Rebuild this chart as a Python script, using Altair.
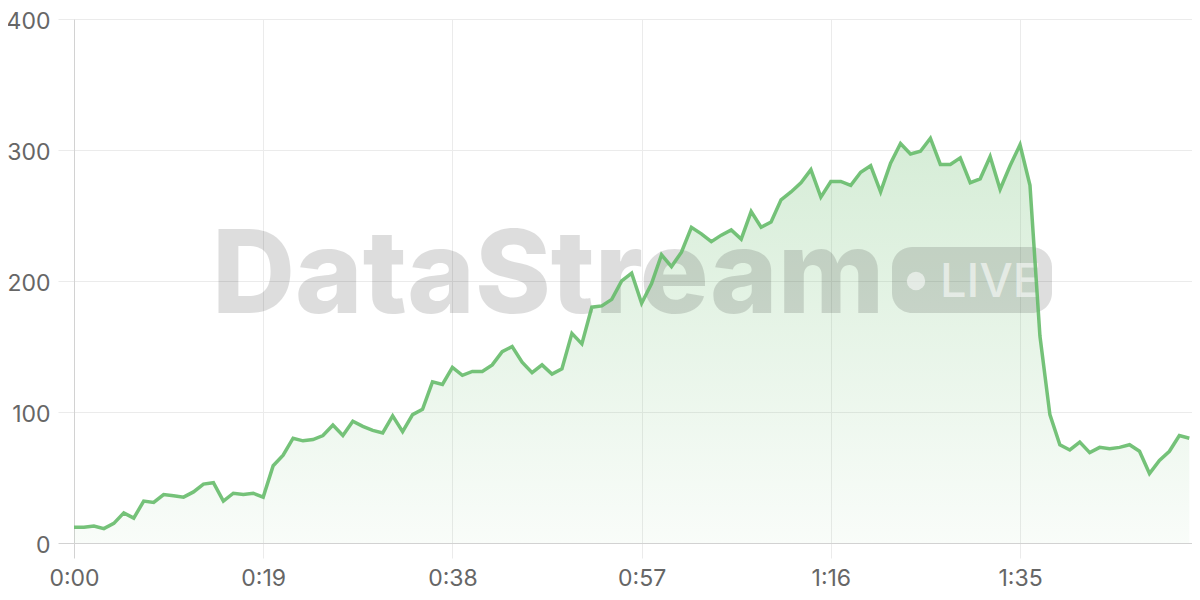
import altair as alt
import pandas as pd

seconds = list(range(0, 113))
values = [
    12, 12, 13, 11, 15, 23, 19, 32, 31, 37,
    36, 35, 39, 45, 46, 32, 38, 37, 38, 35,
    59, 67, 80, 78, 79, 82, 90, 82, 93, 89,
    86, 84, 97, 85, 98, 102, 123, 121, 134, 128,
    131, 131, 136, 146, 150, 138, 130, 136, 129, 133,
    160, 152, 180, 181, 186, 200, 206, 183, 198, 220,
    211, 222, 241, 236, 230, 235, 239, 232, 253, 241,
    245, 262, 268, 275, 285, 264, 276, 276, 273, 283,
    288, 268, 290, 305, 297, 299, 309, 289, 289, 294,
    275, 278, 295, 270, 288, 304, 273, 158, 98, 75,
    71, 77, 69, 73, 72, 73, 75, 70, 53, 63,
    70, 82, 80,
]
x_ticks = [0, 19, 38, 57, 76, 95]
y_ticks = [0, 100, 200, 300, 400]
watermark_text = ["DataStream"]
badge_text = ["LIVE"]

df = pd.DataFrame({"t": seconds, "v": values})

GREEN = "#66bb6a"
FONT = "Inter"
GRID = "#ebebeb"
DOMAIN = "#d2d2d2"

x_enc = alt.X(
    "t:Q",
    scale=alt.Scale(domain=[0, 112.27], nice=False, zero=False),
    axis=alt.Axis(
        values=x_ticks,
        title=None,
        labelExpr="floor(datum.value/60) + ':' + (datum.value%60 < 10 ? '0' : '') + (datum.value%60)",
        grid=True,
        gridColor=GRID,
        domainColor=DOMAIN,
        tickSize=15,
        tickColor={"condition": {"test": "datum.value === 0", "value": DOMAIN}, "value": GRID},
        labelFontSize=23,
        labelFont=FONT,
        labelColor="#666666",
        labelPadding=9,
        labelFlush=False,
    ),
)
y_enc = alt.Y(
    "v:Q",
    scale=alt.Scale(domain=[0, 400], nice=False),
    axis=alt.Axis(
        values=y_ticks,
        title=None,
        grid=True,
        gridColor=GRID,
        domainColor=DOMAIN,
        tickSize=16,
        tickColor={"condition": {"test": "datum.value === 0", "value": DOMAIN}, "value": GRID},
        labelFontSize=23,
        labelFont=FONT,
        labelColor="#666666",
        labelPadding=8,
        labelOffset=2,
        labelFlush=False,
    ),
)

base = alt.Chart(df)

area = base.mark_area(
    color={
        "gradient": "linear",
        "x1": 0, "y1": 0, "x2": 0, "y2": 1,
        "stops": [
            {"offset": 0, "color": "rgba(102,187,106,0.27)"},
            {"offset": 1, "color": "rgba(102,187,106,0.04)"},
        ],
    },
    interpolate="linear",
).encode(x=x_enc, y=y_enc)

line = base.mark_line(color=GREEN, strokeWidth=3.5, opacity=0.9).encode(x="t:Q", y="v:Q")

wm = alt.Chart(pd.DataFrame({"label": watermark_text})).mark_text(
    font=FONT, fontSize=115, fontWeight=800, align="left", baseline="alphabetic",
    color="#000000", opacity=0.13,
).encode(text="label:N", x=alt.value(138), y=alt.value(294))

badge = alt.Chart(pd.DataFrame({"label": badge_text})).mark_rect(
    color="#000000", opacity=0.13, cornerRadius=20,
).encode(x=alt.value(818), x2=alt.value(978), y=alt.value(228), y2=alt.value(294))

dot = alt.Chart(pd.DataFrame({"label": badge_text})).mark_circle(
    color="#ffffff", opacity=0.55, size=340,
).encode(x=alt.value(842), y=alt.value(262))

live = alt.Chart(pd.DataFrame({"label": badge_text})).mark_text(
    font=FONT, fontSize=47, fontWeight=500, align="left", baseline="alphabetic",
    color="#ffffff", opacity=0.55,
).encode(text="label:N", x=alt.value(866), y=alt.value(278))

chart = alt.layer(area, wm, badge, dot, live, line).properties(
    width=1118,
    height=524,
    autosize=alt.AutoSizeParams(type="none"),
    padding={"left": 66, "top": 11, "right": 0, "bottom": 49},
).configure_view(stroke="transparent")

chart.save("out.html", embed_options={"renderer": "svg", "actions": False})
